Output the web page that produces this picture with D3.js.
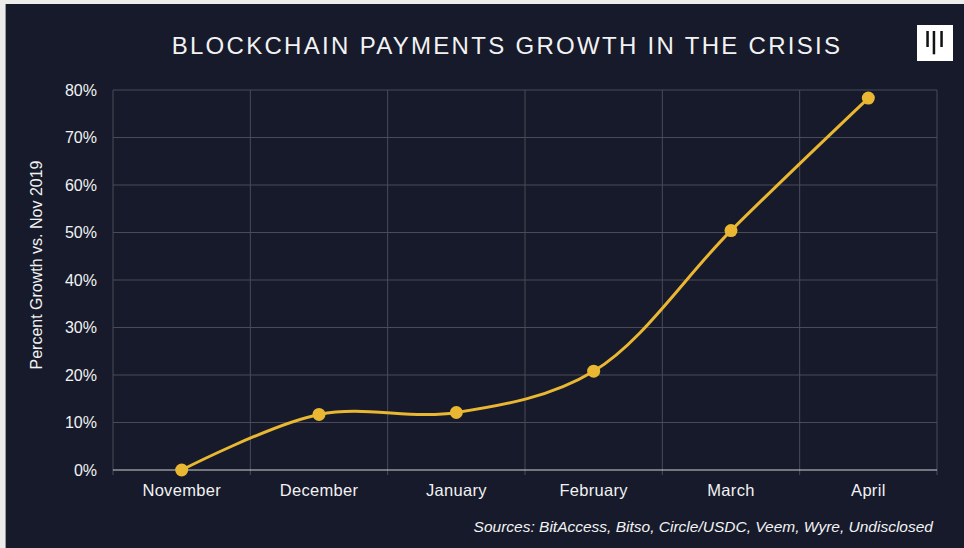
<!DOCTYPE html>
<html>
<head>
<meta charset="utf-8">
<script src="https://cdn.jsdelivr.net/npm/d3@7"></script>
<style>
  html, body { margin: 0; padding: 0; background: #fff; }
  svg { display: block; }
</style>
</head>
<body>
<div id="chart"></div>
<script>
// Blockchain payments growth vs. Nov 2019, monthly, smoothed line on dark panel.
var months = ['November', 'December', 'January', 'February', 'March', 'April']
var growth = [0, 11.7, 12.1, 20.8, 50.4, 78.3]   // percent
var yTicks = [0, 10, 20, 30, 40, 50, 60, 70, 80]
var sources = 'Sources: BitAccess, Bitso, Circle/USDC, Veem, Wyre, Undisclosed'

var W = 964, H = 548
var BG = '#161a2b', GRID = '#4a4b57', GOLD = '#e9b732', TXT = '#f2f2f2'
var FONT = 'Liberation Sans, Arial, sans-serif'
var margin = {top: 90, right: 27, bottom: 78, left: 113}

var svg = d3.select('#chart').append('svg').attr('width', W).attr('height', H)

// light page edge (top + left) then the dark card
svg.append('rect').attr('width', W).attr('height', H).attr('fill', '#ececec')
svg.append('line').attr('x1', 5.5).attr('x2', 5.5).attr('y1', 4).attr('y2', H)
  .attr('stroke', '#9a9a9a').attr('stroke-width', 1)
svg.append('rect').attr('x', 6).attr('y', 4).attr('width', W - 6).attr('height', H - 4).attr('fill', BG)

var width = W - margin.left - margin.right
var height = H - margin.top - margin.bottom
var g = svg.append('g').attr('transform', 'translate(' + margin.left + ',' + margin.top + ')')

var x = d3.scaleBand().domain(months).range([0, width])
var y = d3.scaleLinear().domain([0, 80]).range([height, 0])

// ---- grid ----
g.selectAll('line.hgrid').data(yTicks.slice(1)).join('line')
  .attr('x1', 0).attr('x2', width).attr('y1', y).attr('y2', y)
  .attr('stroke', GRID).attr('stroke-width', 1)
var bounds = months.map(function(m){ return x(m) }).concat([width])
g.selectAll('line.vgrid').data(bounds).join('line')
  .attr('x1', function(d){ return d }).attr('x2', function(d){ return d })
  .attr('y1', 0).attr('y2', height + 5)
  .attr('stroke', GRID).attr('stroke-width', 1)
// zero baseline
g.append('line').attr('x1', 0).attr('x2', width).attr('y1', y(0)).attr('y2', y(0))
  .attr('stroke', '#cfcfd4').attr('stroke-width', 1.2)

// ---- axes (labels only) ----
g.append('g').attr('class', 'yax').call(d3.axisLeft(y).tickValues(yTicks).tickSize(0).tickPadding(16)
  .tickFormat(function(d){ return d + '%' }))
g.append('g').attr('class', 'xax').attr('transform', 'translate(0,' + height + ')')
  .call(d3.axisBottom(x).tickSize(0).tickPadding(14))
g.selectAll('.domain').remove()
g.selectAll('.tick text').attr('fill', TXT).style('font-family', FONT).style('font-size', '16px')
g.selectAll('.xax .tick text').style('font-size', '16.5px').style('letter-spacing', '0.3px')

// ---- line + dots ----
var pts = months.map(function(m, i){ return {m: m, v: growth[i]} })
var line = d3.line()
  .x(function(d){ return x(d.m) + x.bandwidth() / 2 })
  .y(function(d){ return y(d.v) })
  .curve(d3.curveCatmullRom.alpha(0.5))
g.append('path').attr('d', line(pts)).attr('fill', 'none')
  .attr('stroke', GOLD).attr('stroke-width', 3).attr('stroke-linecap', 'round')
g.selectAll('circle').data(pts).join('circle')
  .attr('cx', function(d){ return x(d.m) + x.bandwidth() / 2 })
  .attr('cy', function(d){ return y(d.v) })
  .attr('r', 6.5).attr('fill', GOLD)

// ---- texts ----
svg.append('text').text('BLOCKCHAIN PAYMENTS GROWTH IN THE CRISIS')
  .attr('x', 507).attr('y', 54).attr('text-anchor', 'middle')
  .attr('fill', TXT).style('font-family', FONT).style('font-size', '24px')
  .style('letter-spacing', '2.3px')

svg.append('text').text('Percent Growth vs. Nov 2019')
  .attr('transform', 'translate(42,265) rotate(-90)').attr('text-anchor', 'middle')
  .attr('fill', TXT).style('font-family', FONT).style('font-size', '16px')

svg.append('text').text(sources)
  .attr('x', 933).attr('y', 532).attr('text-anchor', 'end')
  .attr('fill', TXT).style('font-family', FONT).style('font-size', '15.5px')
  .style('font-style', 'italic')

// ---- logo ----
var logo = svg.append('g').attr('transform', 'translate(917,25)')
logo.append('rect').attr('width', 36).attr('height', 36).attr('fill', '#fff')
logo.selectAll('rect.bar').data([[9.3, 16], [15.7, 23.3], [23.3, 16]]).join('rect')
  .attr('x', function(d){ return d[0] }).attr('y', 6)
  .attr('width', 2.5).attr('height', function(d){ return d[1] }).attr('fill', '#111')
</script>
</body>
</html>
